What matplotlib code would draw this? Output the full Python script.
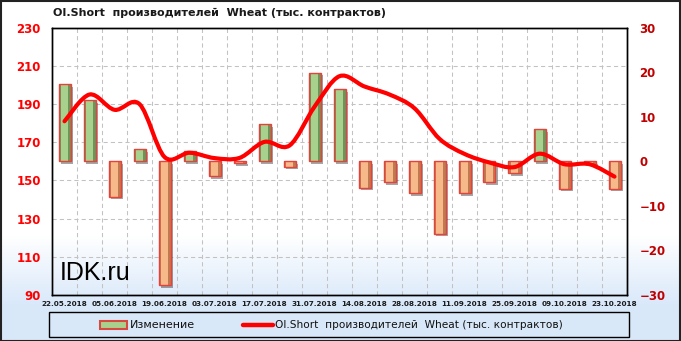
# OI.Short producers Wheat - weekly change bars + smoothed level line
import numpy as np
import matplotlib
matplotlib.use('Agg')
import matplotlib.pyplot as plt
from matplotlib.path import Path
from matplotlib.patches import PathPatch, Rectangle
from matplotlib.lines import Line2D
from matplotlib.transforms import blended_transform_factory
import matplotlib.patheffects as pe

# data
dates = ['22.05.2018', '29.05.2018', '05.06.2018', '12.06.2018', '19.06.2018',
         '26.06.2018', '03.07.2018', '10.07.2018', '17.07.2018', '24.07.2018',
         '31.07.2018', '07.08.2018', '14.08.2018', '21.08.2018', '28.08.2018',
         '04.09.2018', '11.09.2018', '18.09.2018', '25.09.2018', '02.10.2018',
         '09.10.2018', '16.10.2018', '23.10.2018']
oi_short = [181, 195, 187, 190, 162.3, 164.5, 161.7, 161.8, 170.2, 168.3,
            188.6, 204.6, 199.2, 195, 187.8, 171.8, 163.9, 159.4, 157, 164,
            158.5, 158.5, 152]
change = [17.3, 13.8, -7.9, 2.7, -27.7, 2.3, -3.3, -0.4, 8.3, -1.2,
          19.9, 16.2, -5.9, -4.6, -7.2, -16.2, -7.2, -4.6, -2.7, 7.3,
          -6.1, -0.5, -6.1]
left_ticks = [90, 110, 130, 150, 170, 190, 210, 230]
right_ticks = [-30, -20, -10, 0, 10, 20, 30]

title = 'OI.Short  производителей  Wheat (тыс. контрактов)'
legend_bar = 'Изменение'
legend_line = 'OI.Short  производителей  Wheat (тыс. контрактов)'

W, H = 681, 341
fig = plt.figure(figsize=(W / 100, H / 100), dpi=100)

# background gradient white -> light blue
bg = fig.add_axes([0, 0, 1, 1], zorder=-10)
rows = np.arange(H)
t = np.clip((rows - 235) / 70.0, 0, 1)
top_c = np.array([1.0, 1.0, 1.0])
bot_c = np.array([0.850, 0.910, 0.980])
grad = top_c[None, :] * (1 - t[:, None]) + bot_c[None, :] * t[:, None]
bg.imshow(grad[:, None, :], aspect='auto', extent=[0, 1, 0, 1], origin='upper')
bg.set_axis_off()

x = np.arange(len(dates))
pos = [52 / W, 1 - 295 / H, 575 / W, 267.3 / H]

ax2 = fig.add_axes(pos, zorder=1)   # bars (right scale)
ax = fig.add_axes(pos, zorder=2, sharex=ax2)  # line (left scale)
for a in (ax, ax2):
    a.patch.set_visible(False)

ax.set_ylim(90, 230)
ax2.set_ylim(-30, 30)
ax2.set_xlim(-0.5, len(dates) - 0.5)

# grid (drawn under the bars)
gtr = blended_transform_factory(ax2.transAxes, ax.transData)
for v in left_ticks[1:-1]:
    ax2.plot([0, 1], [v, v], transform=gtr, color='#c2c2c2', lw=0.75,
             ls=(0, (4, 3)), zorder=0)
for xv in x[:-1] + 0.5:
    ax2.axvline(xv, color='#c2c2c2', lw=0.75, ls=(0, (4, 3)), zorder=0)

# bars with a simple bevel look
shadow = [pe.SimplePatchShadow(offset=(2, -2), shadow_rgbFace='k', alpha=0.35), pe.Normal()]
for xi, v in zip(x, change):
    if v >= 0:
        side, face = '#6e9458', '#a9d18e'
    else:
        side, face = '#bf7a4f', '#f7b98a'
    b = ax2.bar(xi, v, width=0.48, color=side, edgecolor='none', zorder=2)
    b[0].set_path_effects(shadow)
    ax2.bar(xi, v, width=0.30, color=face, edgecolor='none', zorder=3)
    ax2.bar(xi, v, width=0.48, fill=False, edgecolor='#e8403a', lw=1.0, zorder=4)

# smoothed line (Catmull-Rom drawn as cubic Bezier path)
pts = np.column_stack([x, oi_short]).astype(float)
ext = np.vstack([pts[0], pts, pts[-1]])
verts = [tuple(pts[0])]
codes = [Path.MOVETO]
for i in range(1, len(ext) - 2):
    p0, p1, p2, p3 = ext[i - 1], ext[i], ext[i + 1], ext[i + 2]
    c1 = p1 + (p2 - p0) / 6.0
    c2 = p2 - (p3 - p1) / 6.0
    verts += [tuple(c1), tuple(c2), tuple(p2)]
    codes += [Path.CURVE4] * 3
ax.add_patch(PathPatch(Path(verts, codes), fill=False, edgecolor='#ff0000',
                       lw=3.0, capstyle='round', joinstyle='round', zorder=5))

# axes / ticks
ax.set_yticks(left_ticks)
ax.tick_params(axis='y', length=0, pad=8, labelcolor='#ff0000', labelsize=8.5)
for lab in ax.get_yticklabels():
    lab.set_fontweight('bold')
ax2.yaxis.tick_right()
ax2.set_yticks(right_ticks)
ax2.tick_params(axis='y', length=0, pad=9, labelcolor='#c00000', labelsize=8.5)
for lab in ax2.get_yticklabels():
    lab.set_fontweight('bold')
ax.set_xticks(x[::2])
ax.set_xticklabels(dates[::2], fontsize=5.2, fontweight='bold', color='#1a1a1a')
ax.tick_params(axis='x', length=0, pad=4)
ax2.tick_params(axis='x', labelbottom=False, length=0)
for a in (ax, ax2):
    for s in a.spines.values():
        s.set_color('black')
        s.set_linewidth(1.0)

# title and watermark
fig.text(53 / W, 1 - 16 / H, title, fontsize=8, fontweight='bold',
         color='#1a1a1a', va='baseline', ha='left')
fig.text(60 / W, 1 - 280 / H, 'IDK.ru', fontsize=18, family='Liberation Sans',
         color='black', va='baseline', ha='left', zorder=10)

# legend box, drawn by hand
fig.add_artist(Rectangle((49 / W, 1 - 337 / H), 580 / W, 25 / H, transform=fig.transFigure,
                         facecolor='none', edgecolor='black', lw=1.0))
fig.add_artist(Rectangle((100 / W, 1 - 329 / H), 27 / W, 8 / H, transform=fig.transFigure,
                         facecolor='#a9d18e', edgecolor='#d84a40', lw=1.5))
fig.text(130 / W, 1 - 325 / H, legend_bar, fontsize=8, va='center', ha='left', color='#111111')
fig.add_artist(Line2D([243 / W, 273 / W], [1 - 325 / H, 1 - 325 / H], transform=fig.transFigure,
                      color='#ff0000', lw=3.2, solid_capstyle='round'))
fig.text(275 / W, 1 - 325 / H, legend_line, fontsize=7.6, va='center', ha='left', color='#111111')

# outer border
fig.add_artist(Rectangle((0.5 / W, 0.5 / H), 1 - 1.5 / W, 1 - 1.5 / H, transform=fig.transFigure,
                         facecolor='none', edgecolor='#222222', lw=1.5))

fig.savefig('out.png', dpi=100)
